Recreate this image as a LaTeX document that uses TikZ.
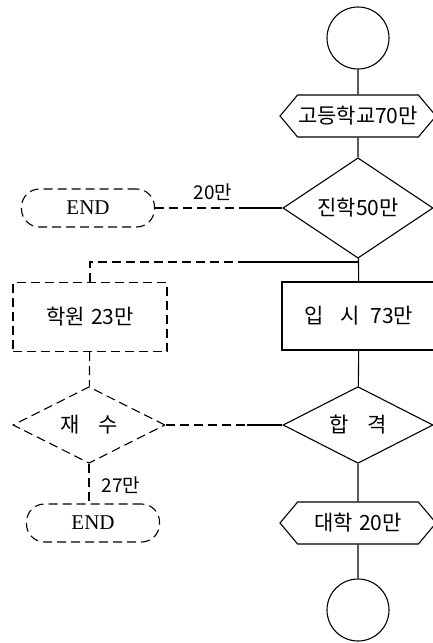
\documentclass[tikz,border=0pt]{standalone}
\usepackage{fontspec}
\setmainfont{Liberation Serif}
\newfontfamily\kr{Noto Sans CJK KR}
\usetikzlibrary{shapes.geometric,shapes.symbols}

\tikzset{
  line/.style={line width=1.1pt},
  dline/.style={line width=1.1pt, dash pattern=on 9pt off 5pt},
  txt/.style={font=\kr\fontsize{21}{24}\selectfont, inner sep=0pt},
  lbl/.style={font=\kr\fontsize{19}{22}\selectfont, inner sep=0pt},
  term/.style={circle, draw, line, minimum size=62pt, inner sep=0pt},
  hexa/.style={signal, signal to=west and east, signal pointer angle=100, draw, line,
    minimum width=156pt, minimum height=42pt, txt},
  test/.style={diamond, draw, minimum width=150pt, minimum height=75pt, txt},
  proc/.style={rectangle, draw, minimum width=154pt, minimum height=68pt, txt},
  stop/.style={rectangle, rounded corners=18pt, draw, dline, minimum width=133pt,
    minimum height=38pt, font=\fontsize{21}{24}\selectfont}
}

\begin{document}
\begin{tikzpicture}[x=1pt,y=-1pt]
  \useasboundingbox (0,0) rectangle (433,643);
  \clip (0,0) rectangle (433,643);

  \node[term] (start) at (358,38) {};
  \node[hexa] (high) at (358,116) {고등학교70만};
  \node[test, line] (go) at (358,208) {진학50만};
  \coordinate (split) at (358,262);
  \node[proc, line] (exam) at (359,316) {입\hspace{0.8em}시\hspace{0.5em}73만};
  \node[test, line] (pass) at (358,425) {합\hspace{0.9em}격};
  \node[hexa] (univ) at (358,523) {대학\hspace{0.3em}20만};
  \node[term] (finish) at (358,610) {};

  \node[stop] (end1) at (88,208) {END};
  \node[lbl] at (213,192) {20만};
  \coordinate (m1) at (247,208);
  \coordinate (m2) at (247,262);
  \coordinate (left) at (90,262);
  \node[proc, dline, minimum width=154pt, minimum height=69pt] (cram) at (90,317) {학원\hspace{0.3em}23만};
  \node[test, dline, minimum width=152pt] (retry) at (89,425) {재\hspace{0.9em}수};
  \coordinate (m3) at (247,425);
  \node[stop] (end2) at (93,523) {END};
  \node[lbl] at (121,485) {27만};

  \draw[line] (start) -- (high);
  \draw[line] (high) -- (go);
  \draw[line] (go) -- (exam);
  \draw[line] (exam) -- (pass);
  \draw[line] (pass) -- (univ);
  \draw[line] (univ) -- (finish);

  \draw[dline] (end1) -- (m1);
  \draw[line] (m1) -- (go.west);
  \draw[line] (split) -- (m2);
  \draw[dline] (m2) -- (left) -- (cram);
  \draw[dline] (cram) -- (retry);
  \draw[dline] (retry) -- (m3);
  \draw[line] (m3) -- (pass);
  \draw[dline] (retry.south) -- (end2.north -| retry.south);
\end{tikzpicture}
\end{document}
